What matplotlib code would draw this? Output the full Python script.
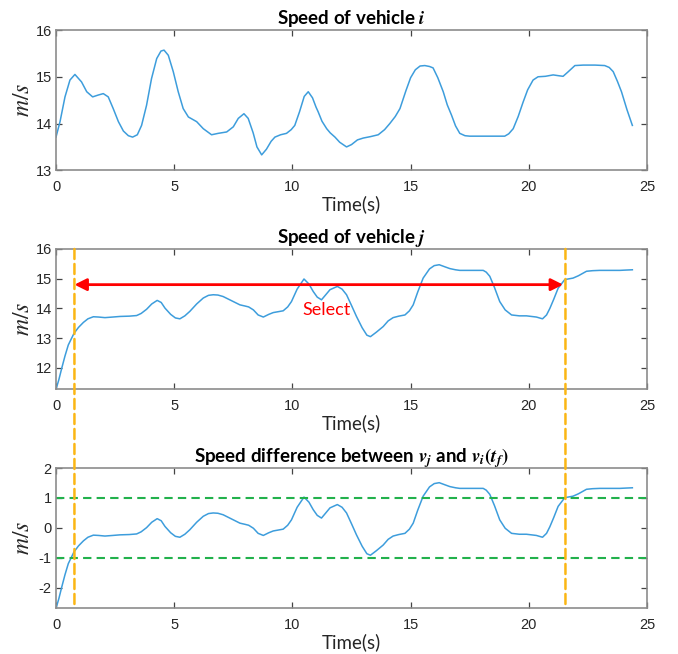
import numpy as np
import matplotlib
matplotlib.use('Agg')
import matplotlib.pyplot as plt
from matplotlib.patches import ConnectionPatch

matplotlib.rcParams['mathtext.fontset'] = 'stix'
matplotlib.rcParams['axes.unicode_minus'] = False
plt.rc('font', family='Liberation Sans', size=10)

# speed of vehicle i (time s, speed m/s)
t_i = [0.0, 0.17, 0.38, 0.59, 0.8, 1.08, 1.3, 1.55, 1.79, 2.0, 2.21, 2.42, 2.64,
       2.85, 3.06, 3.24, 3.44, 3.62, 3.83, 4.04, 4.26, 4.44, 4.57, 4.75, 4.96,
       5.17, 5.38, 5.6, 5.95, 6.23, 6.58, 6.86, 7.22, 7.5, 7.71, 7.95, 8.13,
       8.34, 8.5, 8.7, 8.9, 9.1, 9.26, 9.5, 9.75, 9.95, 10.1, 10.3, 10.5, 10.67,
       10.85, 11.0, 11.09, 11.25, 11.45, 11.6, 11.8, 12.0, 12.29, 12.5, 12.75,
       13.0, 13.3, 13.63, 13.9, 14.12, 14.35, 14.55, 14.8, 15.0, 15.2, 15.4,
       15.6, 15.8, 15.95, 16.15, 16.38, 16.55, 16.73, 16.9, 17.08, 17.3, 17.5,
       18.0, 18.5, 18.98, 19.15, 19.34, 19.55, 19.76, 19.95, 20.18, 20.39, 20.7,
       21.03, 21.3, 21.45, 21.65, 21.95, 22.3, 22.8, 23.21, 23.4, 23.57, 23.75,
       23.92, 24.15, 24.38]
v_i = [13.71, 14.04, 14.57, 14.93, 15.05, 14.89, 14.68, 14.57, 14.61, 14.64,
       14.57, 14.32, 14.04, 13.84, 13.74, 13.71, 13.76, 13.96, 14.39, 14.96,
       15.39, 15.55, 15.57, 15.46, 15.11, 14.68, 14.32, 14.14, 14.04, 13.89,
       13.76, 13.79, 13.82, 13.93, 14.11, 14.21, 14.11, 13.8, 13.5, 13.33,
       13.45, 13.62, 13.71, 13.76, 13.79, 13.87, 13.96, 14.25, 14.58, 14.68,
       14.55, 14.35, 14.25, 14.05, 13.89, 13.8, 13.71, 13.6, 13.5, 13.55, 13.65,
       13.69, 13.72, 13.76, 13.87, 14.0, 14.15, 14.32, 14.7, 14.98, 15.15,
       15.23, 15.24, 15.22, 15.19, 14.98, 14.68, 14.4, 14.18, 13.95, 13.79,
       13.74, 13.73, 13.73, 13.73, 13.73, 13.78, 13.89, 14.15, 14.46, 14.72,
       14.93, 15.0, 15.01, 15.04, 15.02, 15.01, 15.1, 15.24, 15.25, 15.25,
       15.24, 15.2, 15.11, 14.9, 14.68, 14.3, 13.96]

# speed of vehicle j
t_j = [0.0, 0.12, 0.24, 0.38, 0.52, 0.76, 0.95, 1.16, 1.35, 1.58, 1.8, 2.07,
       2.4, 2.71, 3.1, 3.41, 3.6, 3.83, 4.05, 4.28, 4.45, 4.61, 4.85, 5.05,
       5.24, 5.45, 5.66, 5.95, 6.23, 6.45, 6.65, 6.85, 7.07, 7.4, 7.78, 8.0,
       8.15, 8.35, 8.55, 8.77, 9.0, 9.19, 9.4, 9.61, 9.8, 9.96, 10.2, 10.49,
       10.7, 10.88, 11.05, 11.23, 11.4, 11.59, 11.9, 12.1, 12.29, 12.5, 12.71,
       12.95, 13.15, 13.3, 13.55, 13.84, 14.05, 14.26, 14.5, 14.76, 14.95,
       15.11, 15.3, 15.53, 15.8, 16.0, 16.21, 16.45, 16.66, 16.9, 17.08, 17.6,
       18.07, 18.2, 18.35, 18.55, 18.77, 19.0, 19.27, 19.6, 19.9, 20.32, 20.58,
       20.75, 20.89, 21.05, 21.24, 21.52, 21.87, 22.1, 22.44, 22.7, 23.0, 23.5,
       23.85, 24.1, 24.38]
v_j = [11.28, 11.6, 11.98, 12.4, 12.77, 13.16, 13.36, 13.53, 13.65, 13.72,
       13.71, 13.69, 13.71, 13.73, 13.74, 13.76, 13.83, 13.97, 14.15, 14.27,
       14.2, 14.01, 13.8, 13.68, 13.65, 13.75, 13.9, 14.15, 14.35, 14.44, 14.46,
       14.45, 14.4, 14.27, 14.12, 14.08, 14.05, 13.95, 13.78, 13.71, 13.8,
       13.86, 13.89, 13.92, 14.05, 14.23, 14.65, 14.99, 14.82, 14.57, 14.38,
       14.29, 14.45, 14.63, 14.74, 14.65, 14.46, 14.1, 13.73, 13.35, 13.1,
       13.05, 13.2, 13.39, 13.58, 13.69, 13.74, 13.78, 13.92, 14.12, 14.55,
       15.02, 15.33, 15.44, 15.47, 15.4, 15.34, 15.3, 15.28, 15.28, 15.28,
       15.22, 15.08, 14.7, 14.23, 13.95, 13.78, 13.75, 13.75, 13.71, 13.65,
       13.78, 14.0, 14.3, 14.68, 14.97, 15.02, 15.1, 15.25, 15.27, 15.28,
       15.28, 15.28, 15.29, 15.3]

t_start = 0.78   # start of selected window
t_f = 21.55      # end of selected window
arrow_y = 14.8
band = [-1, 1]
xticks = [0, 5, 10, 15, 20, 25]

t_i = np.array(t_i)
v_i = np.array(v_i)
t_j = np.array(t_j)
v_j = np.array(v_j)
dv = v_j - v_i[-1]   # v_j - v_i(t_f)

blue = '#3d9ddc'
gray = '#8c8c8c'
txt = '#262626'
title_font = dict(family='Lato', weight='bold', size=13.5)
label_font = dict(family='Lato', size=13.5)

fig = plt.figure(figsize=(6.78, 6.54), dpi=100)
left, width, height = 0.0826, 0.8717, 0.2145
ax1 = fig.add_axes([left, 0.7396, width, height])
ax2 = fig.add_axes([left, 0.4048, width, height])
ax3 = fig.add_axes([left, 0.0699, width, height])

ax1.plot(t_i, v_i, color=blue, lw=1.1)
ax1.set_ylim(13, 16)
ax1.set_yticks([13, 14, 15, 16])
ax1.set_title(r"Speed of vehicle $\mathbfit{i}$", pad=4, **title_font)

ax2.plot(t_j, v_j, color=blue, lw=1.1)
ax2.set_ylim(v_j.min(), 16)
ax2.set_yticks([12, 13, 14, 15, 16])
ax2.set_title(r"Speed of vehicle $\mathbfit{j}$", pad=4, **title_font)
ax2.annotate('', xy=(t_start, arrow_y), xytext=(t_f - 0.1, arrow_y),
             arrowprops=dict(arrowstyle='<|-|>', color='red', lw=2.0,
                             mutation_scale=18, shrinkA=0, shrinkB=0))
ax2.text(11.45, 13.95, 'Select', color='red', ha='center', va='center',
         family='Lato', size=13)

ax3.plot(t_j, dv, color=blue, lw=1.1)
for b in band:
    ax3.axhline(b, color='#22b14c', lw=1.5, linestyle=(0, (4, 2.5)))
ax3.set_ylim(dv.min(), 2)
ax3.set_yticks([-2, -1, 0, 1, 2])
ax3.set_title(r"Speed difference between $\mathbfit{v}_{\mathbfit{j}}$ and "
              r"$\mathbfit{v}_{\mathbfit{i}}\mathbf{(}\mathbfit{t}_{\mathbfit{f}}\mathbf{)}$",
              pad=4, **title_font)

for ax in (ax1, ax2, ax3):
    ax.set_xlim(0, 25)
    ax.set_xticks(xticks)
    ax.set_xlabel("Time(s)", labelpad=1, color=txt, **label_font)
    ax.set_ylabel(r"$m/s$", fontsize=17, color=txt)
    ax.yaxis.set_label_coords(-0.037, 0.5)
    ax.tick_params(direction='in', top=True, right=True, length=4.5,
                   width=0.9, color='#444444', labelcolor=txt, labelsize=10.5)
    ax.tick_params(axis='x', pad=7)
    ax.tick_params(axis='y', pad=3)
    for s in ax.spines.values():
        s.set_color(gray)
        s.set_linewidth(1.2)

# dashed window limits running from panel 2 down through panel 3
for tx in (t_start, t_f):
    con = ConnectionPatch(xyA=(tx, 1), coordsA=ax2.get_xaxis_transform(),
                          xyB=(tx, 0), coordsB=ax3.get_xaxis_transform(),
                          color='#fbb614', lw=1.8, linestyle=(0, (4, 2)))
    fig.add_artist(con)

plt.savefig("out.png", dpi=100)
